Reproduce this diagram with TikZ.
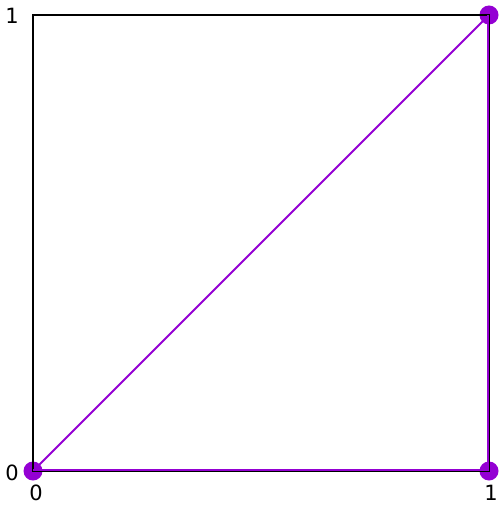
\documentclass[tikz,border=0pt]{standalone}
\usepackage{fontspec}
\setmainfont{DejaVu Sans}
\definecolor{gpviolet}{HTML}{9400D3}
\begin{document}
\begin{tikzpicture}[x=1pt,y=-1pt,
  frame/.style={draw=black,line width=1.6pt},
  plotline/.style={draw=gpviolet,line width=2.1pt},
  pt/.style={circle,fill=gpviolet,inner sep=0pt,minimum size=19pt},
  lbl/.style={font=\fontsize{21}{25}\selectfont,inner sep=0pt}]
\useasboundingbox (0,0) rectangle (499,505);
\coordinate (A) at (33,471);
\coordinate (B) at (489,471);
\coordinate (C) at (489,15);
\coordinate (D) at (33,15);
\coordinate (A2) at (33,469.6);
\coordinate (B2) at (487.6,469.6);
\coordinate (C2) at (487.6,15);
\node[pt] (pa) at (A) {};
\node[pt] (pb) at (B) {};
\node[pt] (pc) at (C) {};
\draw[plotline] (A) -- (C);
\draw[frame] (D) -- (A) -- (B) -- (C) -- cycle;
\draw[plotline] (A2) -- (B2) -- (C2);
\node[lbl] (y1) at (12,15.5) {1};
\node[lbl] (y0) at (12,473) {0};
\node[lbl] (x0) at (36,492.5) {0};
\node[lbl] (x1) at (491,492.5) {1};
\end{tikzpicture}
\end{document}
